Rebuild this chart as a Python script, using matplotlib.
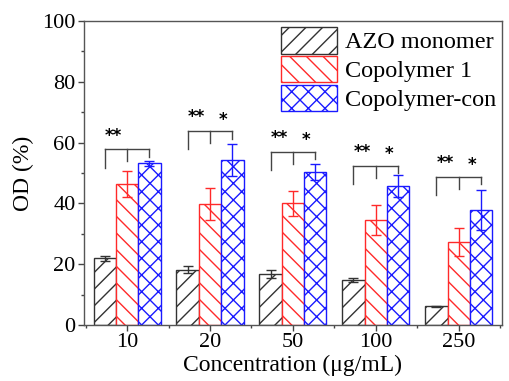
import matplotlib
matplotlib.use("Agg")
import matplotlib.pyplot as plt
import numpy as np

categories = ["10", "20", "50", "100", "250"]
series_names = ["AZO monomer", "Copolymer 1", "Copolymer-con"]
azo = [22.0, 18.2, 16.8, 14.8, 6.1]
azo_err = [0.8, 1.2, 1.4, 0.5, 0.3]
cop1 = [46.3, 39.7, 40.0, 34.5, 27.2]
cop1_err = [4.3, 5.2, 4.2, 5.0, 4.6]
copcon = [53.2, 54.2, 50.3, 45.7, 37.8]
copcon_err = [0.8, 5.2, 2.5, 3.5, 6.6]
bracket_top = [57.8, 63.8, 57.0, 52.4, 48.8]
stars_left = ["**", "**", "**", "**", "**"]
stars_right = ["", "*", "*", "*", "*"]

plt.rcParams['font.family'] = ['Liberation Serif', 'DejaVu Serif']
plt.rcParams['hatch.linewidth'] = 1.0

fig = plt.figure(figsize=(5.10, 3.81), dpi=100)
ax = fig.add_axes([0.1647, 0.147, 0.8193, 0.798])

x = np.arange(1, len(categories) + 1)
w = 0.27
colors = ["#333333", "#ff2a2a", "#1a1aff"]
hatches = ["//", "\\\\", "xx"]
vals = [azo, cop1, copcon]
errs = [azo_err, cop1_err, copcon_err]
for k in range(3):
    xs = x + (k - 1) * w
    ax.bar(xs, vals[k], width=w, facecolor="white", edgecolor=colors[k],
           hatch=hatches[k], linewidth=1.0, label=series_names[k], zorder=2)
    ax.errorbar(xs, vals[k], yerr=errs[k], fmt="none", ecolor=colors[k],
                elinewidth=1.0, capsize=3.5, capthick=1.0, zorder=3)

drops = [6.0, 4.0, 2.5]
for i in range(len(categories)):
    top = bracket_top[i]
    xl, xm, xr = x[i] - w, x[i], x[i] + w
    ax.plot([xl, xr], [top, top], color="#444444", lw=1.0, zorder=4)
    for xx, d in zip([xl, xm, xr], drops):
        ax.plot([xx, xx], [top, top - d], color="#444444", lw=1.0, zorder=4)
    ax.text((xl + xm) / 2 - 0.03, top + 1.5, stars_left[i], ha="center", va="bottom",
            fontsize=12, fontweight="bold", family="DejaVu Sans", color="black")
    if stars_right[i]:
        ax.text((xm + xr) / 2 + 0.02, top + 0.8, stars_right[i], ha="center", va="bottom",
                fontsize=12, fontweight="bold", family="DejaVu Sans", color="black")

ax.set_xlim(0.48, 5.52)
ax.set_ylim(0, 100)
ax.set_xticks(x)
ax.set_xticklabels(categories)
ax.set_xticks(np.arange(0.5, 6.0, 1.0), minor=True)
ax.set_yticks(np.arange(0, 101, 20))
ax.set_yticks(np.arange(10, 100, 20), minor=True)
ax.tick_params(axis="both", which="major", direction="out", length=4, width=1,
               labelsize=16, pad=2, colors="#444444", labelcolor="black")
ax.tick_params(axis="both", which="minor", direction="out", length=2.5, width=1,
               colors="#444444")
for s in ax.spines.values():
    s.set_color("#555555")
    s.set_linewidth(1.0)

ax.set_ylabel("OD (%)", fontsize=17, labelpad=6)
ax.set_xlabel("Concentration (μg/mL)", fontsize=17, labelpad=2)

leg = ax.legend(loc="upper right", frameon=False, fontsize=17.5, handlelength=2.3,
                handleheight=1.3, labelspacing=0.1, handletextpad=0.3,
                borderaxespad=0.1, borderpad=0.15)

fig.savefig("out.png", dpi=100)
